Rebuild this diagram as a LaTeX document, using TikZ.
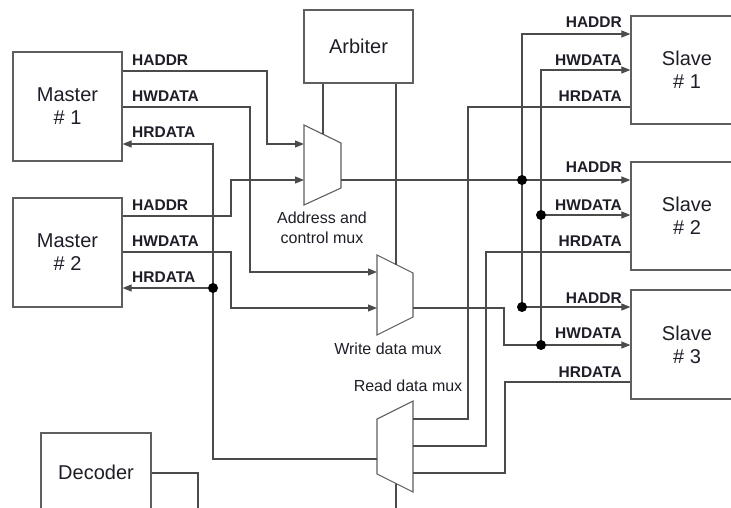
\documentclass[tikz,border=0pt]{standalone}
\usepackage{fontspec}
\setmainfont{Liberation Sans}
\usetikzlibrary{arrows.meta,positioning,calc}
\definecolor{busgray}{RGB}{75,75,75}
\definecolor{boxgray}{RGB}{95,95,95}
\definecolor{txtdark}{RGB}{30,30,40}

\begin{document}
\begin{tikzpicture}[
  x=1pt, y=-1pt,
  >={Triangle[length=9pt,width=7pt]},
  blk/.style={draw=boxgray, line width=1.2pt, fill=white, align=center, text=txtdark, font=\fontsize{20}{23}\selectfont, inner sep=0pt},
  bus/.style={draw=busgray, line width=1.1pt},
  arrow/.style={bus, ->},
  mux/.style={draw=boxgray, line width=1.1pt, fill=white},
  sig/.style={font=\bfseries\fontsize{15.5}{17}\selectfont, text=txtdark, inner sep=0pt},
  muxlabel/.style={font=\fontsize{16}{20}\selectfont, align=center, text=txtdark, inner sep=0pt},
  dot/.style={circle, fill=black, inner sep=0pt, minimum size=10pt}
]
\useasboundingbox (0,0) rectangle (731,507);
\clip (0,0) rectangle (731,507);

% Blocks
\node[blk, minimum width=109pt, minimum height=109pt] (m1) at (67.5,106.5) {Master\\\# 1};
\node[blk, minimum width=109pt, minimum height=109pt] (m2) at (67.5,252.5) {Master\\\# 2};
\node[blk, minimum width=109pt, minimum height=73pt] (arb) at (358.5,46.5) {Arbiter};
\node[blk, minimum width=110pt, minimum height=78pt] (dec) at (96,472) {Decoder};
\node[blk, minimum width=112pt, minimum height=108pt] (s1) at (687,70) {Slave\\\# 1};
\node[blk, minimum width=112pt, minimum height=108pt] (s2) at (687,216) {Slave\\\# 2};
\node[blk, minimum width=112pt, minimum height=109pt] (s3) at (687,344.5) {Slave\\\# 3};

% Multiplexers
\draw[mux] (304,125) -- (341,143) -- (341,188) -- (304,205) -- cycle;
\draw[mux] (377,255) -- (413,273) -- (413,317) -- (377,335) -- cycle;
\draw[mux] (377,419) -- (413,401) -- (413,492) -- (377,474) -- cycle;
\coordinate (am-in1) at (304,144);
\coordinate (am-in2) at (304,180);
\coordinate (am-out) at (341,180);
\coordinate (am-sel) at (323,134);
\coordinate (wm-in1) at (377,272);
\coordinate (wm-in2) at (377,308);
\coordinate (wm-out) at (413,308);
\coordinate (wm-sel) at (396,264.5);
\coordinate (rm-in1) at (413,419);
\coordinate (rm-in2) at (413,446);
\coordinate (rm-in3) at (413,473);
\coordinate (rm-out) at (377,459);
\coordinate (rm-sel) at (396,483.5);
\coordinate (rm-end) at (396,512);
\coordinate (dec-end) at (198,512);

\node[muxlabel] (amcap) at (322,228) {Address and\\control mux};
\node[muxlabel] (wmcap) at (388,349) {Write data mux};
\node[muxlabel] (rmcap) at (408,386) {Read data mux};

% Master side
\node[sig, anchor=west] at (132,60) {HADDR};
\node[sig, anchor=west] at (132,96) {HWDATA};
\node[sig, anchor=west] at (132,132) {HRDATA};
\node[sig, anchor=west] at (132,205) {HADDR};
\node[sig, anchor=west] at (132,241) {HWDATA};
\node[sig, anchor=west] at (132,277) {HRDATA};

\coordinate (rd) at (213,288);
\draw[arrow] (m1.east |- 0,71) -| (267,144) -- (am-in1);
\draw[arrow] (m2.east |- 0,216) -| (231,180) -- (am-in2);
\draw[arrow] (m1.east |- 0,107) -| (250,272) -- (wm-in1);
\draw[arrow] (m2.east |- 0,252) -| (231,308) -- (wm-in2);
\draw[arrow] (rm-out) -| (213,144) -- (m1.east |- 0,144);
\draw[arrow] (rd) -- (m2.east |- rd);

% Arbiter and decoder select lines
\draw[bus] (arb.south -| am-sel) -- (am-sel);
\draw[bus] (arb.south -| wm-sel) -- (wm-sel);
\draw[bus] (dec.east |- 0,473) -| (dec-end);
\draw[bus] (rm-sel) -- (rm-end);

% Slave side
\node[sig, anchor=east] at (622,22) {HADDR};
\node[sig, anchor=east] at (622,60) {HWDATA};
\node[sig, anchor=east] at (622,96) {HRDATA};
\node[sig, anchor=east] at (622,167) {HADDR};
\node[sig, anchor=east] at (622,205) {HWDATA};
\node[sig, anchor=east] at (622,241) {HRDATA};
\node[sig, anchor=east] at (622,298) {HADDR};
\node[sig, anchor=east] at (622,333) {HWDATA};
\node[sig, anchor=east] at (622,372) {HRDATA};

\coordinate (da1) at (522,180);
\coordinate (da2) at (522,307);
\coordinate (dw1) at (541,215);
\coordinate (dw2) at (541,345);

\draw[arrow] (am-out) -- (s2.west |- am-out);
\draw[arrow] (da2) |- (s1.west |- 0,34);
\draw[arrow] (da2) -- (s3.west |- da2);
\draw[arrow] (wm-out) -| (504,345) -- (s3.west |- dw2);
\draw[arrow] (dw2) |- (s1.west |- 0,70);
\draw[arrow] (dw1) -- (s2.west |- dw1);

\draw[bus] (s1.west |- 0,107) -| (468,419) -- (rm-in1);
\draw[bus] (s2.west |- 0,252) -| (486,446) -- (rm-in2);
\draw[bus] (s3.west |- 0,382) -| (505,473) -- (rm-in3);

% Junction dots
\foreach \j in {rd, da1, da2, dw1, dw2}
  \node[dot] at (\j) {};
\end{tikzpicture}
\end{document}
